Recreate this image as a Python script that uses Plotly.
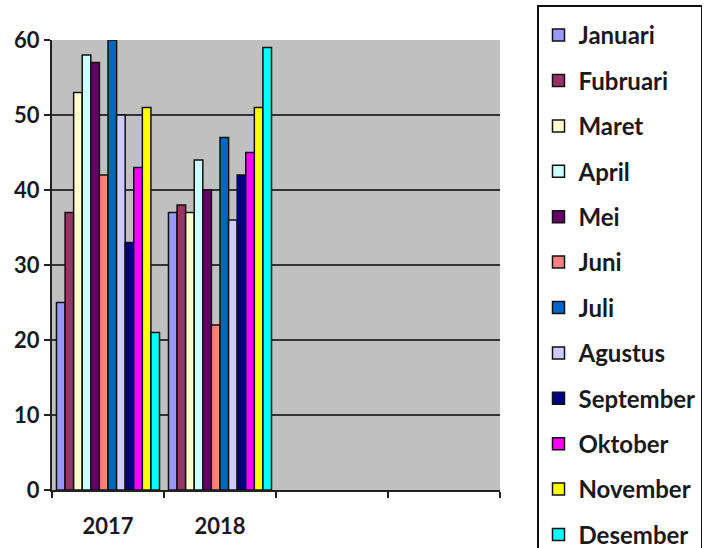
import plotly.graph_objects as go

years = ["2017", "2018"]
all_categories = ["2017", "2018", " ", "  "]
months = ["Januari", "Fubruari", "Maret", "April", "Mei", "Juni", "Juli",
          "Agustus", "September", "Oktober", "November", "Desember"]
values_2017 = [25, 37, 53, 58, 57, 42, 60, 50, 33, 43, 51, 21]
values_2018 = [37, 38, 37, 44, 40, 22, 47, 36, 42, 45, 51, 59]
colors = ["#9999FF", "#993366", "#FFFFCC", "#CCFFFF", "#660066", "#FF8080",
          "#0066CC", "#CCCCFF", "#000080", "#FF00FF", "#FFFF00", "#00FFFF"]
y_ticks = [0, 10, 20, 30, 40, 50, 60]

fig = go.Figure()
for i, m in enumerate(months):
    fig.add_trace(go.Bar(
        x=years, y=[values_2017[i], values_2018[i]], name=m,
        legendgroup=m,
        marker=dict(color=colors[i], line=dict(color="#111111", width=1.5)),
    ))

font_family = "Lato, 'Open Sans', sans-serif"
fig.update_layout(
    width=719, height=548,
    margin=dict(l=52, r=219, t=40, b=58),
    barmode="group", bargap=0.08, bargroupgap=0.0,
    plot_bgcolor="#C0C0C0", paper_bgcolor="white",
    font=dict(family=font_family, size=22, color="#1a1a1a", weight="bold"),
    legend=dict(
        x=537/719, xanchor="left", y=1 - 5/548, yanchor="top",
        xref="container", yref="container",
        bgcolor="white", bordercolor="#111111", borderwidth=1.5,
        font=dict(family=font_family, size=24, color="#1a1a1a", weight="bold"),
        title=dict(text=" ", font=dict(size=5)),
        tracegroupgap=11.2, itemwidth=30, maxheight=2000,
    ),
    xaxis=dict(
        type="category", categoryorder="array", categoryarray=all_categories,
        range=[-0.5, 3.5], tickson="boundaries", ticks="outside", ticklen=6,
        tickcolor="#222222", tickwidth=1.5, ticklabelstandoff=16,
        automargin=False,
        showline=True, linecolor="#222222", linewidth=2, showgrid=False,
        tickfont=dict(size=22, weight="bold"),
    ),
    yaxis=dict(
        range=[0, 60], tickvals=y_ticks, ticks="outside", ticklen=6,
        tickcolor="#222222", tickwidth=1.5, automargin=False,
        showline=True, linecolor="#222222", linewidth=2,
        showgrid=True, gridcolor="#333333", gridwidth=1.5,
        zeroline=False, tickfont=dict(size=22, weight="bold"),
    ),
)

fig.write_html("out.html")
